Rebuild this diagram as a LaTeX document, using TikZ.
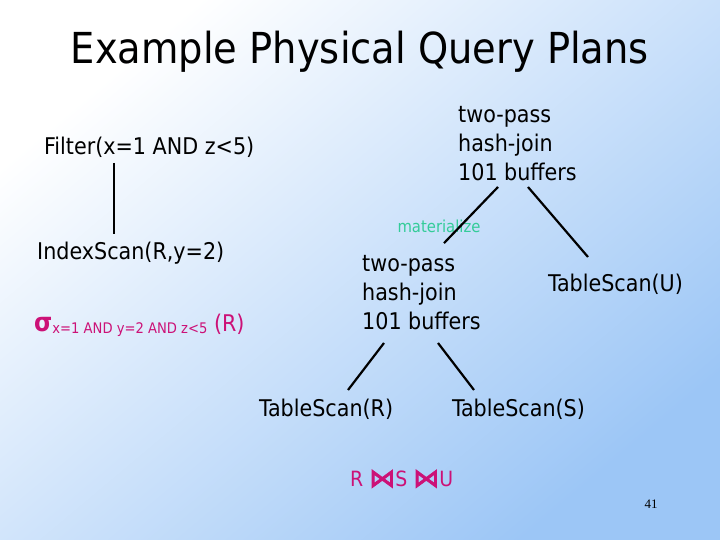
\documentclass[tikz,border=0pt]{standalone}
\usepackage{fontspec}
\setmainfont{DejaVu Sans Condensed}
\newfontfamily\numfont{Liberation Serif}
\newfontfamily\bowfont[FakeBold=3]{DejaVu Sans}
\usetikzlibrary{positioning,calc}
\definecolor{rosa}{HTML}{CC1177}
\definecolor{verde}{HTML}{33CC99}
\definecolor{celeste}{HTML}{9CC6F6}
\newcommand{\fs}[2]{\fontsize{#1}{#2}\selectfont}
\newcommand{\join}{{\bowfont\fs{26}{26}⋈}}

\begin{document}
\begin{tikzpicture}[x=1pt, y=1pt,
      t/.style={inner sep=0pt, font=\fs{23}{29}},
      plan/.style={t, align=left},
      arista/.style={line width=2.2pt}]
    % fondo
    \shade[top color=white, bottom color=celeste, shading angle=40] (0,0) rectangle (720,540);
    \useasboundingbox (0,0) rectangle (720,540);
    \node[t, font=\fs{42.7}{50}, anchor=base] (title) at (360,476) {Example Physical Query Plans};
    % plan izquierdo
    \node[t, anchor=base west] (filt) at (44,385) {Filter(x=1 AND z<5)};
    \node[t, anchor=base west] (iscan) at (37,280) {IndexScan(R,y=2)};
    \node[t, rosa, anchor=base west] (sel) at (34,208)
      {{\fs{26}{26}\bfseries σ}\raisebox{-2pt}{\fs{14.6}{15}x=1 AND y=2 AND z<5} (R)};
    \draw[arista] ([xshift=70pt, yshift=-8pt]filt.base west) -- ([xshift=77pt, yshift=26pt]iscan.base west);
    % plan derecho
    \node[plan, anchor=south west] (hj1) at (458,359) {two-pass\\hash-join\\101 buffers};
    \node[plan, anchor=south west] (hj2) at (362,210) {two-pass\\hash-join\\101 buffers};
    \node[t, font=\fs{16.5}{18}, text=verde] (mat) at (439,314) {materialize};
    \node[t, anchor=base west] (tsU) at (548,248) {TableScan(U)};
    \node[t, anchor=base west] (tsR) at (259,123) {TableScan(R)};
    \node[t, anchor=base west] (tsS) at (452,123) {TableScan(S)};
    \draw[arista] ([shift={(40,-6)}]hj1.south west) -- ([shift={(82,12)}]hj2.north west);
    \draw[arista] ([shift={(70,-6)}]hj1.south west) -- ([shift={(40,35)}]tsU.base west);
    \draw[arista] ([shift={(22,-13)}]hj2.south west) -- ([shift={(89,27)}]tsR.base west);
    \draw[arista] ([shift={(76,-13)}]hj2.south west) -- ([shift={(22,27)}]tsS.base west);
    % expresion
    \node[t, rosa, font=\fs{21}{24}, anchor=base west] (expr) at (350,53) {R \join S \join U};
    \node[inner sep=0pt, font=\numfont\fs{13}{15}] (pnum) at (651,36) {41};
  \end{tikzpicture}
\end{document}
